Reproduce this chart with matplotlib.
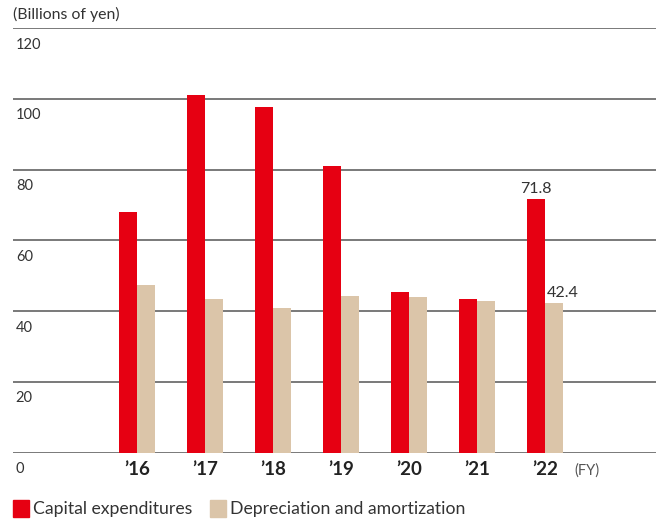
import matplotlib
matplotlib.use("Agg")
import matplotlib.pyplot as plt
from matplotlib.patches import Rectangle

plt.rcParams['font.family'] = ['Lato', 'DejaVu Sans']

years = ["\u201916", "\u201917", "\u201918", "\u201919", "\u201920", "\u201921", "\u201922"]
capex = [68.0, 101.1, 97.7, 81.0, 45.4, 43.4, 71.8]
depreciation = [47.3, 43.4, 40.8, 44.2, 44.0, 42.8, 42.4]
y_ticks = [0, 20, 40, 60, 80, 100, 120]

red = "#E60012"
beige = "#DBC5A9"
txt = "#333333"

fig = plt.figure(figsize=(6.56, 5.22), dpi=100)
W, H = 656, 522
ax = fig.add_axes([13 / W, (H - 452.5) / H, (656 - 13) / W, (452.5 - 28) / H])

x = list(range(len(years)))
bw = 0.26
ax.bar([i - bw / 2 for i in x], capex, width=bw, color=red, zorder=3)
ax.bar([i + bw / 2 for i in x], depreciation, width=bw, color=beige, zorder=3)

for v in y_ticks:
    ax.axhline(v, color="#555555", lw=1.1, zorder=1)
    ax.annotate(str(v), xy=(0, v), xycoords=("axes fraction", "data"),
                xytext=(2, -7), textcoords="offset points",
                ha="left", va="top", fontsize=10.5, color=txt)

ax.set_xlim(-1.82, 7.63)
ax.set_ylim(0, 120)
ax.set_yticks([])
ax.set_xticks(x)
ax.set_xticklabels(years, fontsize=13.5, fontweight="bold", color="#222222")
ax.tick_params(axis="x", length=0, pad=6)
for s in ax.spines.values():
    s.set_visible(False)

# value labels for the last year
ax.annotate("71.8", xy=(6 - bw / 2, capex[6]), xytext=(0, 2), textcoords="offset points",
            ha="center", va="bottom", fontsize=11.5, color=txt)
ax.annotate("42.4", xy=(6, depreciation[6]), xytext=(1, 2), textcoords="offset points",
            ha="left", va="bottom", fontsize=11.5, color=txt)

fig.text(13 / W, 1 - 14 / H, "(Billions of yen)", ha="left", va="center", fontsize=11.4, color=txt)
fig.text(574 / W, 1 - 471 / H, "(FY)", ha="left", va="center", fontsize=10.5, color="#555555")

# legend
fig.patches.append(Rectangle((13 / W, 1 - 517 / H), 16 / W, 17 / H, color=red, transform=fig.transFigure))
fig.text(33 / W, 1 - 509 / H, "Capital expenditures", ha="left", va="center", fontsize=12.7, color=txt)
fig.patches.append(Rectangle((210 / W, 1 - 517 / H), 16 / W, 17 / H, color=beige, transform=fig.transFigure))
fig.text(230 / W, 1 - 509 / H, "Depreciation and amortization", ha="left", va="center", fontsize=12.7, color=txt)

fig.savefig("out.png", dpi=100)
